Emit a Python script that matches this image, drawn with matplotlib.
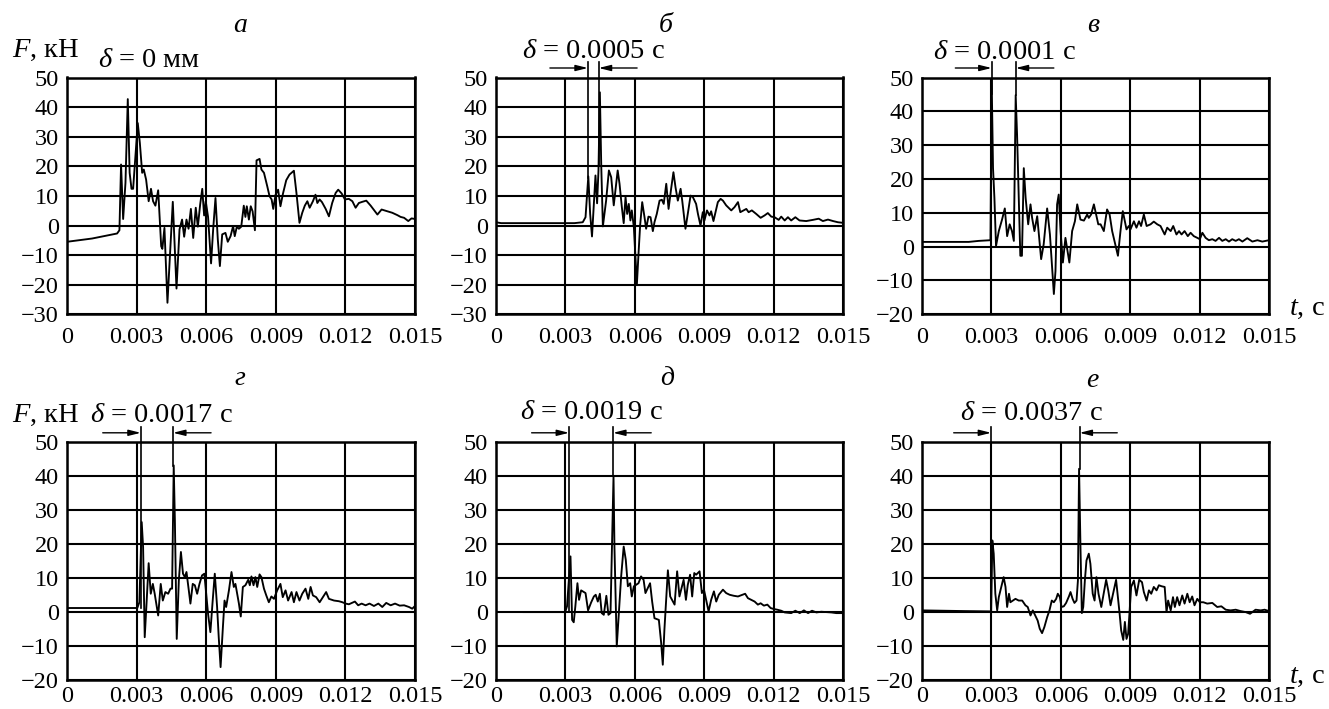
import numpy as np
import matplotlib
matplotlib.use('Agg')
import matplotlib.pyplot as plt

plt.rcParams['font.family'] = ['Liberation Serif', 'DejaVu Serif']
plt.rcParams['mathtext.fontset'] = 'custom'
plt.rcParams['mathtext.rm'] = 'Liberation Serif'
plt.rcParams['mathtext.it'] = 'Liberation Serif:italic'

W, H = 1329, 709

# время в мс, сила в кН
t_a = [0, 1.08, 2.16, 2.26, 2.33, 2.42, 2.52, 2.62, 2.70, 2.78,
       2.85, 3.05, 3.14, 3.24, 3.31, 3.41, 3.52, 3.62, 3.71, 3.81,
       3.93, 4.06, 4.11, 4.20, 4.33, 4.56, 4.72, 4.85, 4.96, 5.05,
       5.15, 5.24, 5.34, 5.44, 5.55, 5.64, 5.74, 5.83, 5.91, 5.98,
       6.08, 6.21, 6.30, 6.40, 6.50, 6.59, 6.69, 6.83, 6.93, 7.05,
       7.16, 7.23, 7.32, 7.41, 7.51, 7.62, 7.69, 7.75, 7.84, 7.92,
       8.00, 8.10, 8.17, 8.30, 8.38, 8.49, 8.63, 8.73, 8.82, 8.89,
       8.99, 9.10, 9.20, 9.31, 9.45, 9.59, 9.78, 9.89, 10.02, 10.14,
       10.25, 10.36, 10.46, 10.60, 10.71, 10.79, 10.89, 10.99, 11.15, 11.29,
       11.43, 11.58, 11.69, 11.84, 11.98, 12.15, 12.30, 12.44, 12.58, 12.73,
       12.90, 13.09, 13.38, 13.56, 13.81, 14.02, 14.24, 14.38, 14.53, 14.71,
       14.85, 15.0]
F_a = [-5.5, -4.4, -2.7, -1.6, 20.6, 2.2, 14.4, 42.7, 17.8, 12.4,
       12.4, 34.6, 27.9, 17.8, 18.9, 15.5, 8.2, 12.4, 8.2, 6.7,
       11.9, -7.0, -7.9, -0.8, -26.1, 8.0, -21.3, -1.3, 2.0, -3.8,
       2.0, -1.1, 5.6, -4.2, 6.0, -0.4, 7.1, 12.4, 3.4, 8.2,
       2.9, -12.8, -1.3, 9.3, -4.7, -13.7, -3.0, -2.5, -5.5, -3.6,
       -0.2, -3.6, -0.4, -1.1, -0.4, 6.7, 2.9, 6.5, 2.0, 6.5,
       4.8, -1.6, 22.0, 22.5, 18.9, 17.8, 13.3, 9.9, 8.8, 5.6,
       10.4, 12.1, 6.5, 10.8, 15.3, 17.2, 18.5, 11.0, 0.9, 4.3,
       6.7, 8.2, 6.0, 8.2, 10.4, 7.6, 8.8, 7.9, 5.6, 3.1,
       7.6, 11.0, 12.1, 10.8, 8.8, 9.0, 8.2, 6.0, 7.6, 8.0,
       8.4, 6.7, 3.7, 5.4, 4.8, 4.3, 3.5, 2.9, 2.6, 1.5,
       2.4, 2.2]

t_b = [0, 0.22, 3.39, 3.75, 3.87, 3.99, 4.07, 4.15, 4.30, 4.37,
       4.43, 4.49, 4.55, 4.62, 4.76, 4.88, 4.98, 5.09, 5.26, 5.34,
       5.44, 5.52, 5.60, 5.67, 5.74, 5.81, 5.87, 5.96, 6.09, 6.16,
       6.23, 6.32, 6.42, 6.49, 6.59, 6.68, 6.78, 6.85, 6.95, 7.07,
       7.17, 7.25, 7.36, 7.46, 7.57, 7.67, 7.76, 7.86, 7.98, 8.05,
       8.19, 8.29, 8.41, 8.51, 8.65, 8.73, 8.84, 8.94, 9.01, 9.12,
       9.23, 9.30, 9.40, 9.59, 9.71, 9.81, 9.95, 10.17, 10.31, 10.46,
       10.56, 10.82, 10.92, 11.06, 11.25, 11.44, 11.61, 11.75, 11.90, 12.04,
       12.22, 12.33, 12.48, 12.62, 12.76, 12.94, 13.12, 13.41, 13.70, 13.95,
       14.13, 14.35, 14.57, 14.78, 15.0]
F_b = [1.1, 0.8, 0.8, 1.1, 2.8, 16.6, 3.9, -3.7, 16.9, 7.5,
       18.6, 45.0, 20.0, -0.3, 8.4, 18.6, 16.3, 6.8, 18.6, 14.1,
       6.2, 0.8, 9.6, 3.9, 7.3, 1.7, 5.1, -0.6, -19.9, -9.6,
       0.0, 7.9, 2.8, -1.1, 3.0, 2.8, -1.9, 1.1, 3.9, 8.4,
       8.7, 7.3, 14.1, 5.6, 12.4, 18.0, 12.9, 8.4, 12.4, 8.4,
       -1.1, 3.9, 10.1, 9.6, 7.3, 3.9, 0.0, 4.5, 1.7, 5.1,
       3.4, 4.8, 1.5, 7.9, 9.0, 8.4, 6.8, 5.1, 6.2, 7.9,
       4.5, 5.6, 4.5, 5.1, 3.9, 2.6, 3.4, 4.2, 3.0, 2.8,
       1.9, 3.0, 1.7, 2.8, 1.7, 2.8, 1.7, 1.5, 1.9, 2.3,
       1.5, 2.0, 1.5, 1.1, 0.9]

t_v = [0, 2.02, 2.45, 2.96, 3.01, 3.07, 3.13, 3.20, 3.32, 3.46,
       3.58, 3.68, 3.79, 3.89, 3.97, 4.05, 4.11, 4.25, 4.32, 4.40,
       4.48, 4.59, 4.69, 4.76, 4.86, 4.98, 5.15, 5.26, 5.41, 5.53,
       5.70, 5.77, 5.84, 5.91, 5.99, 6.09, 6.20, 6.37, 6.49, 6.61,
       6.71, 6.85, 7.00, 7.14, 7.21, 7.31, 7.43, 7.62, 7.72, 7.86,
       8.00, 8.11, 8.22, 8.47, 8.58, 8.68, 8.84, 8.94, 9.01, 9.16,
       9.27, 9.38, 9.47, 9.59, 9.71, 9.88, 10.02, 10.17, 10.31, 10.49,
       10.60, 10.75, 10.86, 11.00, 11.11, 11.22, 11.35, 11.49, 11.61, 11.75,
       11.90, 12.01, 12.12, 12.26, 12.40, 12.55, 12.69, 12.84, 12.98, 13.13,
       13.27, 13.41, 13.56, 13.70, 13.85, 14.06, 14.28, 14.50, 14.71, 15.0]
F_v = [1.4, 1.4, 1.7, 1.9, 50.0, 23.2, 14.4, 0.2, 4.6, 8.0,
       11.3, 3.1, 6.6, 4.6, 1.7, 44.8, 33.0, -2.7, -2.7, 23.2,
       14.4, 6.6, 12.5, 8.5, 4.6, 9.0, -3.7, 0.7, 11.3, 3.6,
       -14.0, -7.2, 12.5, 15.4, 4.6, -4.7, 2.6, -4.7, 4.6, 7.5,
       12.5, 8.0, 7.7, 9.5, 8.5, 9.5, 12.5, 6.6, 6.6, 4.6,
       11.0, 9.5, 4.6, -2.7, 4.6, 10.5, 5.1, 6.1, 5.1, 7.5,
       5.6, 7.5, 6.1, 9.5, 6.1, 6.6, 7.4, 6.6, 6.1, 3.6,
       5.6, 4.6, 6.1, 3.6, 4.6, 3.6, 4.6, 3.1, 4.1, 3.1,
       2.6, 2.2, 4.1, 2.6, 1.9, 2.2, 1.7, 2.6, 1.7, 2.2,
       1.5, 2.2, 1.7, 2.2, 1.5, 2.5, 1.5, 1.9, 1.5, 1.9]

t_g = [0, 3.03, 3.12, 3.22, 3.28, 3.35, 3.42, 3.52, 3.61, 3.70,
       3.78, 3.93, 4.04, 4.13, 4.24, 4.36, 4.46, 4.53, 4.60, 4.65,
       4.73, 4.82, 4.91, 5.00, 5.08, 5.15, 5.25, 5.32, 5.42, 5.51,
       5.61, 5.71, 5.82, 5.92, 6.00, 6.08, 6.18, 6.28, 6.37, 6.47,
       6.54, 6.62, 6.72, 6.79, 6.86, 6.98, 7.09, 7.19, 7.26, 7.41,
       7.49, 7.58, 7.69, 7.81, 7.88, 7.95, 8.04, 8.12, 8.20, 8.30,
       8.38, 8.49, 8.59, 8.70, 8.81, 8.92, 9.06, 9.20, 9.30, 9.42,
       9.53, 9.68, 9.78, 9.89, 10.02, 10.14, 10.28, 10.40, 10.50, 10.60,
       10.74, 10.89, 11.03, 11.17, 11.29, 11.51, 11.72, 11.87, 12.01, 12.15,
       12.41, 12.55, 12.70, 12.87, 13.04, 13.23, 13.42, 13.59, 13.76, 13.95,
       14.14, 14.34, 14.53, 14.74, 14.88, 15.0]
F_g = [1.2, 1.2, 2.9, 26.5, 19.2, -7.4, 1.5, 14.4, 5.4, 8.3,
       5.4, -1.0, 8.3, 3.4, 5.9, 5.4, 6.9, 6.9, 43.2, 27.0,
       -7.9, 9.3, 17.7, 11.3, 10.3, 11.8, 6.4, 2.5, 8.3, 7.9,
       5.4, 8.3, 10.8, 11.3, 5.4, -0.5, -5.9, 3.4, 11.3, 1.5,
       -7.4, -16.2, -4.4, 3.4, 1.5, 6.4, 11.8, 7.4, 8.3, 2.5,
       -1.3, 7.4, 7.9, 9.5, 7.9, 10.5, 7.9, 10.3, 7.4, 11.1,
       10.3, 6.9, 4.9, 2.9, 4.6, 3.9, 6.4, 8.3, 4.4, 6.4,
       3.4, 5.9, 2.9, 5.9, 3.4, 5.4, 6.9, 3.9, 7.4, 4.9,
       4.4, 2.9, 4.4, 5.9, 3.9, 3.4, 3.2, 2.9, 2.5, 2.3,
       3.1, 2.0, 2.5, 2.0, 2.5, 1.8, 2.5, 1.5, 2.7, 2.0,
       2.5, 1.9, 2.0, 1.5, 1.0, 1.8]

t_d = [1.20, 2.99, 3.07, 3.22, 3.29, 3.36, 3.43, 3.52, 3.59, 3.68,
       3.87, 3.98, 4.11, 4.23, 4.31, 4.40, 4.49, 4.57, 4.66, 4.77,
       4.86, 4.95, 5.08, 5.12, 5.22, 5.41, 5.52, 5.61, 5.70, 5.80,
       5.87, 5.96, 6.16, 6.27, 6.38, 6.46, 6.66, 6.75, 6.85, 7.04,
       7.14, 7.21, 7.28, 7.43, 7.53, 7.72, 7.83, 7.93, 8.11, 8.21,
       8.29, 8.39, 8.48, 8.57, 8.65, 8.80, 8.90, 8.99, 9.19, 9.30,
       9.42, 9.52, 9.63, 9.81, 9.95, 10.10, 10.28, 10.46, 10.77, 10.89,
       11.18, 11.32, 11.44, 11.58, 11.73, 11.87, 12.01, 12.16, 12.33, 12.48,
       12.76, 12.94, 13.13, 13.31, 13.49, 13.66, 13.85, 14.06, 14.28, 14.50,
       14.71, 15.0]
F_d = [0.0, 0.0, 1.7, 16.4, -2.3, -3.0, 1.7, 8.5, 3.6, 6.4,
       5.6, 0.5, 2.8, 4.6, 5.1, 3.1, 5.4, -0.3, -0.8, 4.8,
       -0.8, -0.3, 40.0, 19.3, -10.1, 10.5, 19.3, 15.4, 7.6, 8.5,
       4.6, 7.6, 8.5, 10.5, 9.5, 5.6, 8.5, 3.1, -1.8, -2.3,
       -9.1, -15.5, -5.2, 12.3, 4.6, 2.2, 12.0, 4.6, 9.5, 3.6,
       8.0, 11.0, 4.6, 11.5, 11.0, 12.0, 5.6, 6.6, 0.2, 3.6,
       6.1, 3.1, 5.1, 6.6, 5.6, 5.1, 4.8, 4.6, 5.4, 4.1,
       3.1, 2.2, 2.6, 1.9, 2.2, 1.2, 0.9, 0.7, 0.4, -0.1,
       -0.3, 0.4, -0.3, 0.5, -0.3, 0.4, -0.1, 0.1, 0.0, -0.1,
       -0.3, -0.3]

t_e = [0, 1.80, 2.99, 3.04, 3.10, 3.17, 3.25, 3.32, 3.53, 3.61,
       3.68, 3.76, 3.82, 4.04, 4.18, 4.33, 4.47, 4.57, 4.69, 4.79,
       5.00, 5.09, 5.19, 5.29, 5.41, 5.51, 5.61, 5.70, 5.80, 5.87,
       5.96, 6.03, 6.13, 6.23, 6.35, 6.42, 6.51, 6.59, 6.68, 6.74,
       6.79, 6.85, 6.91, 6.97, 7.04, 7.11, 7.21, 7.28, 7.38, 7.46,
       7.54, 7.63, 7.75, 7.96, 8.05, 8.15, 8.39, 8.54, 8.61, 8.70,
       8.77, 8.84, 8.91, 8.97, 9.04, 9.16, 9.27, 9.39, 9.51, 9.59,
       9.71, 9.81, 9.91, 10.02, 10.14, 10.24, 10.36, 10.49, 10.57, 10.64,
       10.75, 10.85, 10.93, 11.03, 11.13, 11.25, 11.35, 11.47, 11.57, 11.68,
       11.78, 11.90, 12.01, 12.16, 12.33, 12.55, 12.76, 12.94, 13.13, 13.34,
       13.56, 13.77, 13.99, 14.18, 14.42, 14.64, 14.81, 15.0]
F_e = [0.5, 0.3, 0.2, 21.1, 17.2, 5.4, 0.5, 4.4, 10.3, 7.4,
       1.5, 5.4, 2.9, 3.9, 3.4, 3.4, 2.0, 1.5, -1.0, 0.5,
       -2.5, -4.9, -6.2, -4.4, -1.5, 0.5, 3.4, 2.9, 3.9, 5.4,
       4.4, 1.5, 1.7, 2.7, 4.6, 5.9, 3.9, 2.7, 3.4, 9.3,
       42.2, 19.2, -0.3, 1.5, 9.3, 15.2, 17.2, 14.2, 5.4, 3.4,
       10.3, 5.4, 1.5, 9.5, 6.4, 2.0, 9.5, -0.3, -5.4, -8.2,
       -2.9, -7.9, -6.4, -0.3, 7.4, 9.3, 4.9, 9.5, 8.8, 5.9,
       3.4, 6.4, 5.4, 7.4, 6.4, 7.9, 7.6, 7.4, 0.0, 3.4,
       0.5, 4.4, 1.5, 4.4, 2.0, 4.9, 2.5, 5.4, 2.9, 4.6,
       2.0, 3.9, 2.9, 2.9, 2.5, 2.7, 1.5, 1.7, 0.7, 0.5,
       0.7, 0.3, 0.0, -0.5, 0.7, 0.5, 0.7, 0.3]

times = [t_a, t_b, t_v, t_g, t_d, t_e]
forces = [F_a, F_b, F_v, F_g, F_d, F_e]
letters = ['а', 'б', 'в', 'г', 'д', 'е']
delta_labels = [r'$\delta$ = 0 мм', r'$\delta$ = 0.0005 с', r'$\delta$ = 0.0001 с',
                r'$\delta$ = 0.0017 с', r'$\delta$ = 0.0019 с', r'$\delta$ = 0.0037 с']
y_limits = [(-30, 50), (-30, 50), (-20, 50), (-20, 50), (-20, 50), (-20, 50)]
# отметки пиков (мс) и нижний конец отметки (кН)
marks_t = [None, (3.97, 4.44), (3.01, 4.05), (3.18, 4.57), (3.16, 5.06), (2.99, 6.81)]
marks_low = [None, (16.0, 20.0), (45.0, 44.8), (1.2, 43.0), (0.0, 40.0), (0.2, 42.0)]
arrows_from = [None, (2.33, 6.10), (1.44, 5.70), (1.54, 6.21), (1.54, 6.71), (1.37, 8.44)]

xticks = [0, 0.003, 0.006, 0.009, 0.012, 0.015]
xtick_labels = ['0', '0.003', '0.006', '0.009', '0.012', '0.015']

# положение осей в пикселях: left, top, right, bottom
rects = [(67, 77.5, 415, 314.3), (496, 77.5, 843, 314.3), (922, 77.5, 1269, 314.3),
         (67, 442.3, 415, 680), (496, 442.3, 843, 680), (922, 442.3, 1269, 680)]
title_xy = [(240, 31.7), (666, 31.7), (1093, 31.7), (240, 385), (667, 385), (1092, 386.7)]
delta_xy = [(98, 66.7), (522, 58.3), (933, 59.3), (90, 421.7), (520, 419.3), (960, 420)]


def fx(x):
    return x / W


def fy(y):
    return 1 - y / H


fig = plt.figure(figsize=(W / 100, H / 100), dpi=100)

for i in range(6):
    l, t, r, b = rects[i]
    ax = fig.add_axes([l / W, 1 - b / H, (r - l) / W, (b - t) / H])
    tt = np.array(times[i]) * 1e-3
    ax.plot(tt, forces[i], color='k', linewidth=1.35, solid_joinstyle='round')

    y0, y1 = y_limits[i]
    ax.set_xlim(0, 0.015)
    ax.set_ylim(y0, y1)
    ax.set_xticks(xticks)
    ax.set_xticklabels(xtick_labels)
    ax.set_yticks(np.arange(y0, y1 + 1, 10))
    row_pad = 9 if i < 3 else 4.5
    ax.tick_params(axis='x', length=0, pad=row_pad, labelsize=17.5)
    ax.tick_params(axis='y', length=0, pad=6, labelsize=17.5)
    ax.grid(True, color='k', linewidth=1.5)
    for sp in ax.spines.values():
        sp.set_linewidth(1.8)

    if marks_t[i] is not None:
        span = y1 - y0
        row_h = b - t
        y_top = y1 + span * 15.5 / row_h
        y_arr = y1 + span * 9.5 / row_h
        for tm, low in zip(marks_t[i], marks_low[i]):
            ax.plot([tm * 1e-3, tm * 1e-3], [low, y_top], color='k',
                    linewidth=1.2, clip_on=False)
        for tm, tf in zip(marks_t[i], arrows_from[i]):
            ax.annotate('', xy=(tm * 1e-3, y_arr), xytext=(tf * 1e-3, y_arr),
                        annotation_clip=False,
                        arrowprops=dict(arrowstyle='-|>,head_length=0.6,head_width=0.15',
                                        color='k', lw=1.0, mutation_scale=12,
                                        shrinkA=0, shrinkB=0))

    fig.text(fx(title_xy[i][0]), fy(title_xy[i][1]), letters[i], fontsize=20,
             style='italic', ha='center', va='baseline')
    fig.text(fx(delta_xy[i][0]), fy(delta_xy[i][1]), delta_labels[i], fontsize=20.5,
             ha='left', va='baseline')

fig.text(fx(12), fy(57.3), '$F$, кН', fontsize=20.5, ha='left', va='baseline')
fig.text(fx(12), fy(421.7), '$F$, кН', fontsize=20.5, ha='left', va='baseline')
fig.text(fx(1289), fy(315), '$t$, с', fontsize=20.5, ha='left', va='baseline')
fig.text(fx(1289), fy(683.3), '$t$, с', fontsize=20.5, ha='left', va='baseline')

fig.savefig('out.png', dpi=100)
plt.close(fig)
